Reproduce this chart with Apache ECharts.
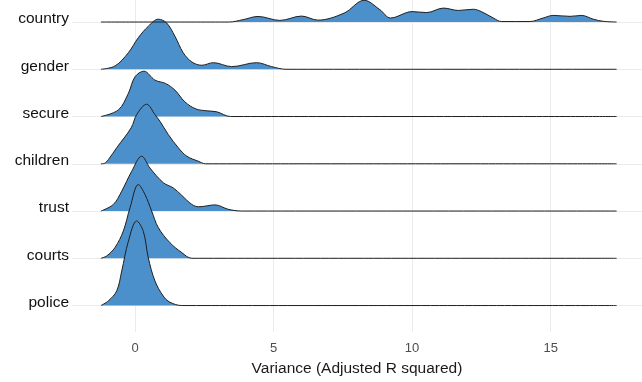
<!DOCTYPE html>
<html>
<head>
<meta charset="utf-8">
<script src="https://cdn.jsdelivr.net/npm/echarts@6/dist/echarts.min.js"></script>
<style>html,body{margin:0;padding:0;background:#fff}#c{width:642px;height:382px}</style>
</head>
<body>
<div id="c"></div>
<script>
// categories, bottom to top
const categories = ['police', 'courts', 'trust', 'children', 'secure', 'gender', 'country'];
const xTicks = [0, 5, 10, 15];
// ridge heights [x, height in row units]
const police = [[-1.23,0],[-0.96,0.1],[-0.66,0.31],[-0.48,0.73],[-0.24,1.36],[0.06,1.79],[0.3,1.57],[0.48,1.01],[0.72,0.52],[1.02,0.2],[1.26,0.07],[1.69,0],[17.38,0]];
const courts = [[-1.23,0],[-1.02,0.05],[-0.72,0.23],[-0.42,0.58],[-0.18,1.07],[0.12,1.56],[0.36,1.35],[0.6,1.0],[0.84,0.65],[1.26,0.33],[1.69,0.12],[2.05,0],[17.38,0]];
const trust = [[-1.23,0],[-0.78,0.14],[-0.48,0.42],[-0.12,0.84],[0.24,1.16],[0.54,0.91],[1.02,0.6],[1.38,0.49],[1.69,0.33],[2.05,0.14],[2.3,0.09],[2.89,0.13],[3.37,0.036],[3.85,0],[17.38,0]];
const children = [[-1.23,0],[-1.1,0.01],[-0.96,0.09],[-0.66,0.34],[-0.14,0.76],[0.06,1.04],[0.42,1.26],[0.72,1.04],[0.9,0.9],[1.2,0.62],[1.56,0.34],[1.87,0.16],[2.28,0.055],[2.55,0],[17.38,0]];
const secure = [[-1.23,0],[-0.6,0.14],[-0.24,0.49],[0,0.84],[0.32,0.96],[0.72,0.77],[1.1,0.7],[1.44,0.56],[1.8,0.31],[2.2,0.16],[2.6,0.12],[2.95,0.1],[3.45,0],[17.38,0]];
const gender = [[-1.23,0],[-0.72,0.07],[-0.24,0.35],[0.12,0.67],[0.48,0.91],[0.84,1.06],[1.14,0.98],[1.44,0.7],[1.74,0.35],[2.05,0.155],[2.41,0.085],[2.83,0.14],[3.49,0.056],[4.39,0.14],[4.93,0.056],[5.45,0],[17.38,0]];
const country = [[-1.23,0],[3.4,0],[3.9,0.05],[4.44,0.118],[5.23,0.034],[6.01,0.126],[6.6,0.04],[7.55,0.19],[8.27,0.46],[8.84,0.26],[9.22,0.085],[10.0,0.22],[10.53,0.2],[11.13,0.295],[11.67,0.245],[12.21,0.27],[12.5,0.22],[12.93,0.085],[13.23,0.01],[14.25,0.01],[14.73,0.085],[15.1,0.14],[15.7,0.12],[16.12,0.14],[16.54,0.06],[16.9,0.015],[17.38,0]];

const ridges = [police, courts, trust, children, secure, gender, country];

const series = [];
for (let i = ridges.length - 1; i >= 0; i--) {
  series.push({
    type: 'line',
    name: categories[i],
    data: ridges[i].map(p => [p[0], i + p[1]]),
    smooth: 0.35,
    showSymbol: false,
    symbol: 'none',
    lineStyle: { color: '#1f1f1f', width: 1 },
    areaStyle: { color: '#4b8fcb', opacity: 1, origin: i },
    silent: true,
    z: 2
  });
}

const chart = echarts.init(document.getElementById('c'), null, { renderer: 'canvas' });
chart.setOption({
  animation: false,
  backgroundColor: '#ffffff',
  grid: { left: 72, right: 0, top: 0, bottom: 49, containLabel: false },
  xAxis: {
    type: 'value',
    min: -2.274,
    max: 18.297,
    name: 'Variance (Adjusted R squared)',
    nameLocation: 'middle',
    nameGap: 29,
    nameTextStyle: { color: '#1a1a1a', fontSize: 15.5, fontFamily: 'Liberation Sans, Arial, sans-serif' },
    axisLine: { show: false },
    axisTick: { show: false, customValues: xTicks },
    axisLabel: { customValues: xTicks, color: '#4d4d4d', fontSize: 13, margin: 10, fontFamily: 'Liberation Sans, Arial, sans-serif' },
    splitLine: { show: true, lineStyle: { color: '#ebebeb', width: 1 } }
  },
  yAxis: {
    type: 'value',
    min: -0.56,
    max: 6.466,
    axisLine: { show: false },
    axisTick: { show: false, customValues: [0,1,2,3,4,5,6] },
    axisLabel: {
      customValues: [0,1,2,3,4,5,6],
      formatter: v => categories[Math.round(v)],
      color: '#111111', fontSize: 15.5, margin: 3,
      verticalAlign: 'bottom', lineHeight: 6,
      fontFamily: 'Liberation Sans, Arial, sans-serif'
    },
    splitLine: { show: true, lineStyle: { color: '#ebebeb', width: 1 } }
  },
  series: series
});
</script>
</body>
</html>
